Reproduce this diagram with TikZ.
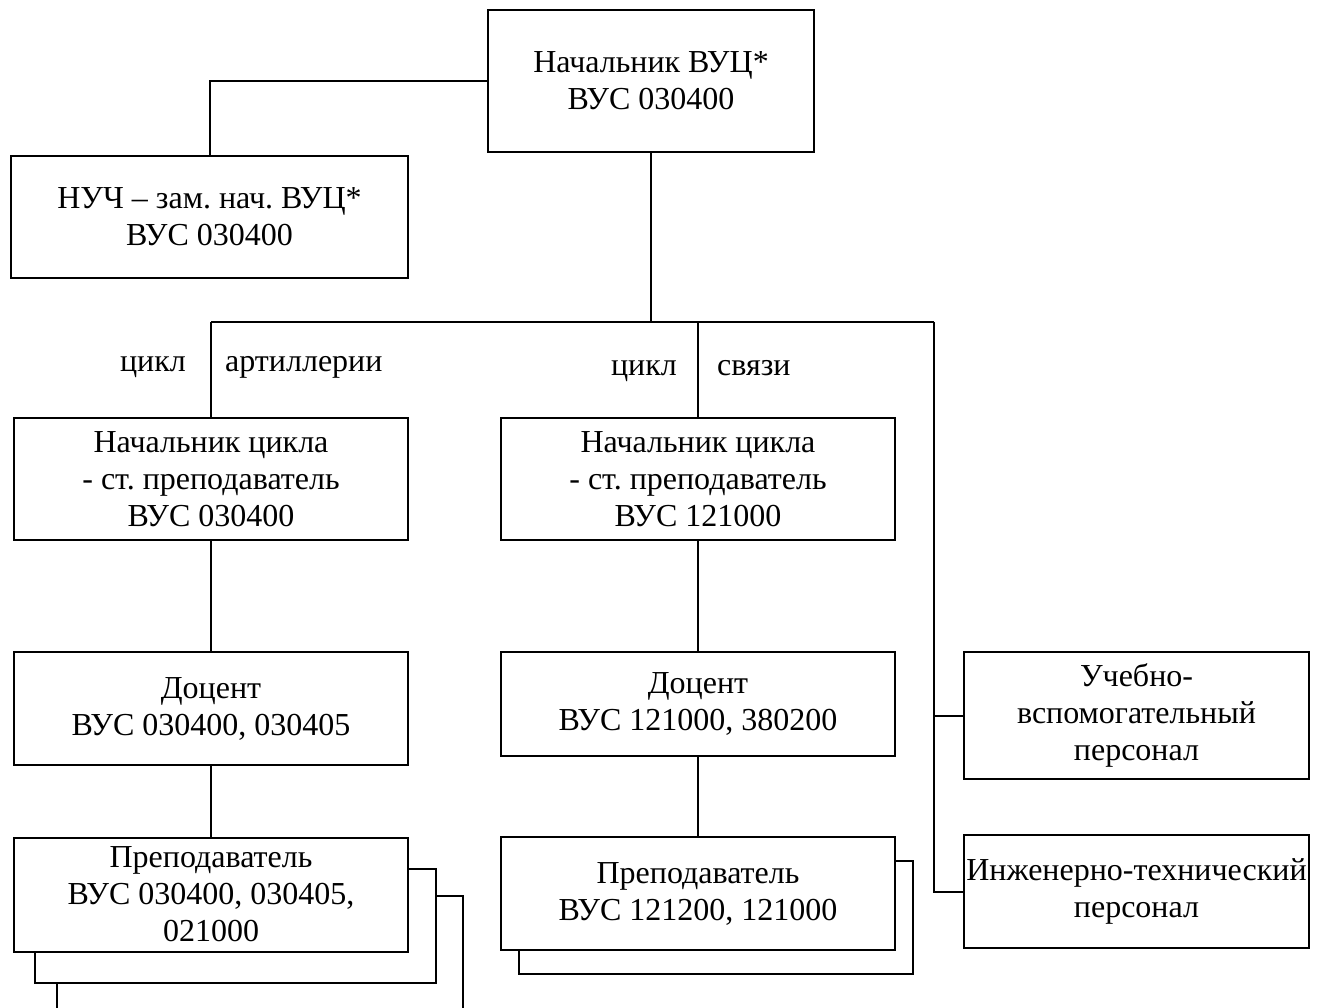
\documentclass[tikz,border=0pt]{standalone}
\usepackage{fontspec}
\setmainfont{Liberation Serif}
\frenchspacing
\begin{document}
\begin{tikzpicture}[x=1pt,y=-1pt,
  box/.style={draw, line width=2pt, fill=white, align=center, inner sep=0pt,
    font=\fontsize{32}{37}\selectfont\frenchspacing},
  conn/.style={line width=2pt},
  shad/.style={draw, line width=2pt, fill=white},
  lbl/.style={font=\fontsize{32}{37}\selectfont, inner sep=0pt}]
\useasboundingbox (0,0) rectangle (1323,1008);
% top
\node[box, minimum width=326pt, minimum height=142pt] (top) at (651,81) {Начальник ВУЦ*\\ВУС 030400};
\node[box, minimum width=397pt, minimum height=122pt] (nuch) at (209.5,217) {НУЧ – зам. нач. ВУЦ*\\ВУС 030400};
% cycle heads
\node[box, minimum width=394pt, minimum height=122pt] (nc1) at (211,479) {Начальник цикла\\- ст. преподаватель\\ВУС 030400};
\node[box, minimum width=394pt, minimum height=122pt] (nc2) at (698,479) {Начальник цикла\\- ст. преподаватель\\ВУС 121000};
% docents
\node[box, minimum width=394pt, minimum height=113pt] (doc1) at (211,708.5) {Доцент\\ВУС 030400, 030405};
\node[box, minimum width=394pt, minimum height=104pt] (doc2) at (698,704) {Доцент\\ВУС 121000, 380200};
% teacher stacks
\draw[shad] (57,1008) -- (57,896) -- (463,896) -- (463,1008);
\draw[shad] (35,869) rectangle (436,983);
\node[box, minimum width=394pt, minimum height=114pt] (prep1) at (211,894.5) {Преподаватель\\ВУС 030400, 030405,\\021000};
\draw[shad] (519,861) rectangle (913,974);
\node[box, minimum width=394pt, minimum height=113pt] (prep2) at (698,893.5) {Преподаватель\\ВУС 121200, 121000};
% right boxes
\node[box, minimum width=345pt, minimum height=127pt] (ucheb) at (1136.5,715.5) {Учебно-\\вспомогательный\\персонал};
\node[box, minimum width=345pt, minimum height=113pt] (inzh) at (1136.5,891.5) {Инженерно-технический\\персонал};
% bus
\coordinate (busL) at (211,322);
\coordinate (busR) at (934,322);
\draw[conn] (top.west) -| (nuch.north);
\draw[conn] (top.south) -- (top.south |- busL);
\draw[conn] (busL) -- (busR);
\draw[conn] (nc1.north) -- (nc1.north |- busL);
\draw[conn] (nc2.north) -- (nc2.north |- busL);
\draw[conn] (busR) |- (ucheb.west);
\draw[conn] (busR) |- (inzh.west);
\draw[conn] (nc1.south) -- (doc1.north);
\draw[conn] (doc1.south) -- (prep1.north);
\draw[conn] (nc2.south) -- (doc2.north);
\draw[conn] (doc2.south) -- (prep2.north);
% labels
\node[lbl, anchor=base east] (l1) at (186,371) {цикл};
\node[lbl, anchor=base west] (l2) at (225,371) {артиллерии};
\node[lbl, anchor=base east] (l3) at (677,376) {цикл};
\node[lbl, anchor=base west] (l4) at (717,376) {связи};
\end{tikzpicture}
\end{document}
